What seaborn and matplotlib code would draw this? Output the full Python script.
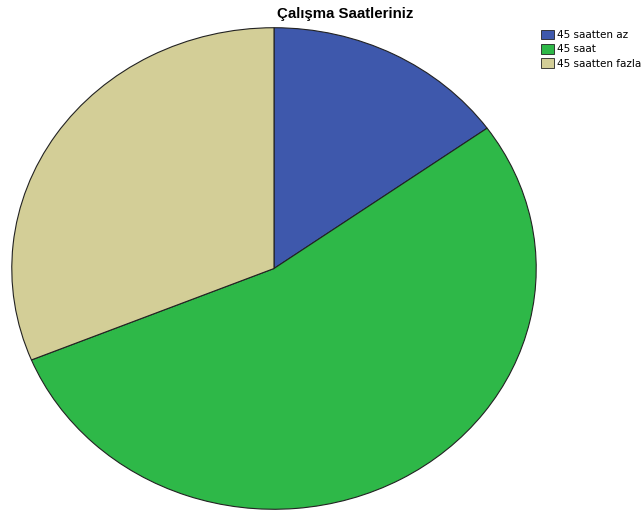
import matplotlib
matplotlib.use("Agg")
import matplotlib.pyplot as plt
import seaborn as sns
from matplotlib.patches import Patch

sns.set_style("white")
plt.rcParams['font.family'] = ['Arial', 'Liberation Sans', 'DejaVu Sans']
plt.rcParams['text.color'] = 'black'

categories = ["45 saatten az", "45 saat", "45 saatten fazla"]
values = [15.1, 53.7, 31.2]
colors = ["#3E58AC", "#2EB848", "#D3CE97"]
title = "Çalışma Saatleriniz"

W, H = 644, 513
fig = plt.figure(figsize=(W / 100, H / 100), dpi=100)
ax = fig.add_axes([11 / W, (H - 510) / H, 526 / W, 483 / H])
ax.pie(values, colors=colors, startangle=90, counterclock=False,
       wedgeprops=dict(edgecolor="#222222", linewidth=0.8))
ax.set_aspect("auto")
ax.set_xlim(-1.003, 1.003)
ax.set_ylim(-1.003, 1.003)
ax.axis("off")

fig.text(345 / W, 1 - 14 / H, title, ha="center", va="center",
         fontsize=10.8, fontweight="bold", color="black")

handles = [Patch(facecolor=c, edgecolor="#222222", linewidth=0.6) for c in colors]
fig.legend(handles, categories, loc="upper left", bbox_to_anchor=(539 / W, 1 - 28 / H),
           frameon=False, prop=dict(family="DejaVu Sans", size=7.5),
           handlelength=1.2, handleheight=1.0, labelcolor="black",
           handletextpad=0.3, labelspacing=0.38, borderpad=0.2, borderaxespad=0)

fig.savefig("out.png", dpi=100)
